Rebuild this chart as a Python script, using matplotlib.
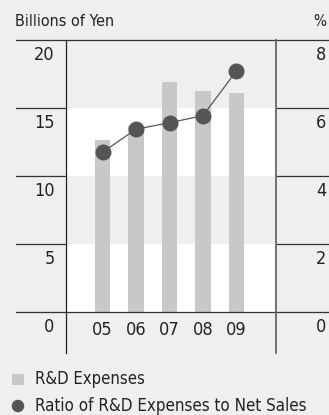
import numpy as np
import matplotlib
matplotlib.use('Agg')
import matplotlib.pyplot as plt
from matplotlib.patches import Rectangle, Ellipse

plt.rcParams['font.family'] = ['DejaVu Sans']
plt.rcParams['font.stretch'] = 'condensed'

years = ['05', '06', '07', '08', '09']
rd_expenses = [12.65, 13.7, 16.95, 16.3, 16.15]      # billions of yen
rd_ratio = [4.70, 5.38, 5.57, 5.78, 7.10]           # % of net sales
left_ticks = [0, 5, 10, 15, 20]
right_ticks = [0, 2, 4, 6, 8]

bg = '#efefef'
bar_col = '#c8c8c8'
dot_col = '#555555'
txt_col = '#222222'
line_col = '#333333'

W, H = 329, 415
fig = plt.figure(figsize=(W / 100, H / 100), dpi=100, facecolor=bg)

# axes box in pixels
x0, x1 = 65.7, 276.0
y_top, y_bot = 40.3, 311.7
ax = fig.add_axes([x0 / W, (H - y_bot) / H, (x1 - x0) / W, (y_bot - y_top) / H])
ax.set_facecolor(bg)
ax.set_ylim(0, 20)
ax.set_xlim(-1.10, 5.18)
for s in ax.spines.values():
    s.set_visible(False)
ax.set_xticks([])
ax.set_yticks([])

# alternating bands
for lo, hi, c in [(15, 20, bg), (10, 15, 'white'), (5, 10, bg), (0, 5, 'white')]:
    ax.axhspan(lo, hi, color=c, lw=0, zorder=0)

x = np.arange(len(years))
ax.bar(x, rd_expenses, width=0.45, color=bar_col, zorder=2)

ax2 = ax.twinx()
ax2.set_ylim(0, 8)
for s in ax2.spines.values():
    s.set_visible(False)
ax2.set_yticks([])
ax2.plot(x, rd_ratio, color=dot_col, lw=0.9, marker='o', markersize=10.5,
         markerfacecolor=dot_col, markeredgecolor=dot_col, zorder=3)

ax_w = x1 - x0
px_per_unit = (y_bot - y_top) / 20
left_x = (16 - x0) / ax_w
right_start = (277 - x0) / ax_w
right_end = (W - x0) / ax_w
# horizontal rules
for v in left_ticks:
    if v in (0, 20):
        ax.axhline(v, left_x, right_end, color=line_col, lw=0.9, clip_on=False, zorder=4)
    else:
        ax.axhline(v, left_x, 0, color=line_col, lw=0.9, clip_on=False, zorder=4)
        ax.axhline(v, right_start, right_end, color=line_col, lw=0.9, clip_on=False, zorder=4)

# vertical rules
ybot_ax = (y_bot - 352.7) / (y_bot - y_top)
ax.plot([0, 0], [ybot_ax, 1], transform=ax.transAxes, color='#222222', lw=0.9, clip_on=False, zorder=4)
ax.plot([1, 1], [ybot_ax, 1], transform=ax.transAxes, color='#666666', lw=1.3, clip_on=False, zorder=4)

# tick labels (below each rule)
off = 15 / px_per_unit
lab_x = (54.5 - x0) / ax_w
rlab_x = (326.5 - x0) / ax_w
for v, r in zip(left_ticks, right_ticks):
    ax.text(lab_x, v - off, str(v), transform=ax.get_yaxis_transform(), ha='right', va='center',
            fontsize=13, color=txt_col)
    ax.text(rlab_x, v - off, str(r), transform=ax.get_yaxis_transform(), ha='right', va='center',
            fontsize=13, color=txt_col)
for xi, yr in zip(x, years):
    ax.text(xi, -18.5 / px_per_unit, yr, ha='center', va='center', fontsize=13, color=txt_col,
            clip_on=False)

fig.text(15 / W, 1 - 21.5 / H, 'Billions of Yen', ha='left', va='center', fontsize=11.5, color=txt_col)
fig.text(326.5 / W, 1 - 21.5 / H, '%', ha='right', va='center', fontsize=11, color=txt_col)

# legend
fig.patches.append(Rectangle((12 / W, 1 - 385 / H), 11.5 / W, 11.5 / H, transform=fig.transFigure,
                             facecolor=bar_col, edgecolor='none'))
fig.text(35 / W, 1 - 379 / H, 'R&D Expenses', ha='left', va='center', fontsize=12, color=txt_col)
fig.patches.append(Ellipse((18 / W, 1 - 406 / H), 12.5 / W, 12.5 / H, transform=fig.transFigure,
                           facecolor=dot_col, edgecolor='none'))
fig.text(35 / W, 1 - 406 / H, 'Ratio of R&D Expenses to Net Sales', ha='left', va='center',
         fontsize=12.2, color=txt_col)

fig.savefig('out.png', dpi=100, facecolor=bg)
